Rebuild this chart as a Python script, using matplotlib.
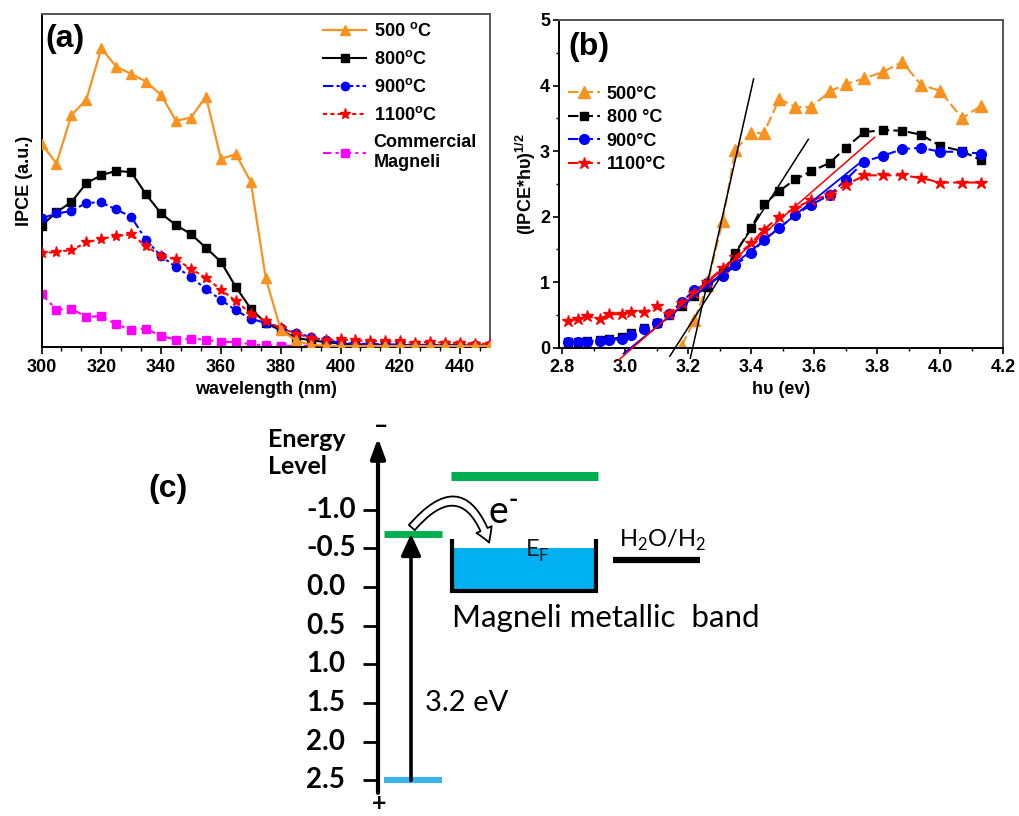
import matplotlib
matplotlib.use('Agg')
import matplotlib.pyplot as plt
from matplotlib.ticker import MultipleLocator, FormatStrFormatter
from matplotlib.patches import FancyArrowPatch

plt.rcParams['font.family'] = 'Liberation Sans'
plt.rcParams['font.weight'] = 'bold'
plt.rcParams['axes.labelweight'] = 'bold'
plt.rcParams['mathtext.fontset'] = 'custom'
plt.rcParams['mathtext.rm'] = 'Liberation Sans'
plt.rcParams['mathtext.bf'] = 'Liberation Sans:bold'

# (a) IPCE spectra, arbitrary units
wavelength = [300, 305, 310, 315, 320, 325, 330, 335, 340, 345, 350, 355, 360, 365, 370, 375,
              380, 385, 390, 395, 400, 405, 410, 415, 420, 425, 430, 435, 440, 445, 450]
ipce_500 = [61.1, 55.1, 69.6, 74.3, 89.7, 84.2, 82.0, 79.7, 75.7, 67.9, 68.9, 75.2, 56.5, 57.9, 49.6, 20.7,
            5.2, 2.0, 0.6, 0.4, 0.3, 0.3, 0.3, 0.3, 0.3, 0.3, 0.3, 0.3, 0.3, 0.3, 0.3]
ipce_800 = [36.4, 40.5, 43.5, 49.2, 51.6, 52.9, 52.5, 45.8, 40.1, 36.6, 33.9, 29.8, 25.6, 18.0, 11.5, 7.2,
            5.0, 2.8, 2.0, 1.5, 1.0, 0.8, 0.7, 0.6, 0.6, 0.5, 0.5, 0.5, 0.5, 0.4, 0.4]
ipce_900 = [38.6, 40.1, 40.8, 43.3, 43.4, 41.3, 39.1, 32.1, 27.3, 24.0, 21.0, 17.4, 14.2, 11.0, 8.5, 7.2,
            5.7, 4.3, 3.0, 2.0, 1.3, 1.0, 0.9, 0.8, 0.7, 0.7, 0.6, 0.6, 0.6, 0.5, 0.5]
ipce_1100 = [28.1, 28.6, 29.1, 31.4, 32.5, 33.3, 33.8, 30.3, 27.3, 26.4, 23.4, 20.8, 17.2, 13.8, 10.0, 7.8,
             5.7, 4.0, 2.8, 2.0, 2.3, 2.0, 1.8, 1.7, 1.7, 1.3, 1.5, 1.3, 1.2, 1.0, 0.9]
ipce_comm = [16.0, 11.2, 11.5, 9.0, 9.3, 6.8, 5.2, 5.5, 3.3, 2.2, 2.5, 2.2, 1.5, 1.5, 0.8, 0.5,
             0.4, 0.3, 0.3, 0.3, 0.3, 0.3, 0.3, 0.3, 0.3, 0.3, 0.3, 0.3, 0.3, 0.3, 0.3]

# (b) (IPCE*hv)^1/2 vs photon energy
hv = [2.82, 2.85, 2.88, 2.92, 2.95, 2.99, 3.02, 3.06, 3.10, 3.14, 3.18, 3.22, 3.26, 3.31, 3.35,
      3.40, 3.44, 3.49, 3.54, 3.59, 3.65, 3.70, 3.76, 3.82, 3.88, 3.94, 4.00, 4.07, 4.13]
hv_500 = hv[10:]
tauc_500 = [0.03, 0.42, 0.95, 1.94, 3.02, 3.28, 3.27, 3.80, 3.67, 3.67, 3.91, 4.02, 4.11, 4.21,
            4.36, 4.01, 3.92, 3.50, 3.69]
tauc_800 = [0.08, 0.09, 0.10, 0.11, 0.13, 0.16, 0.22, 0.30, 0.38, 0.50, 0.64, 0.79, 0.93, 1.14, 1.45,
            1.82, 2.19, 2.39, 2.57, 2.69, 2.82, 3.05, 3.29, 3.32, 3.31, 3.25, 3.08, 3.00, 2.86]
tauc_900 = [0.08, 0.08, 0.09, 0.10, 0.11, 0.14, 0.20, 0.28, 0.37, 0.52, 0.70, 0.88, 0.98, 1.09, 1.26,
            1.44, 1.64, 1.83, 2.02, 2.18, 2.33, 2.56, 2.84, 2.93, 3.03, 3.05, 2.99, 2.99, 2.96]
tauc_1100 = [0.41, 0.44, 0.48, 0.44, 0.51, 0.51, 0.54, 0.54, 0.63, 0.52, 0.68, 0.84, 1.01, 1.21, 1.39,
             1.59, 1.80, 2.00, 2.13, 2.25, 2.33, 2.48, 2.63, 2.63, 2.63, 2.59, 2.52, 2.52, 2.52]
# linear fits (end points)
fit_500 = ([3.207, 3.408], [-0.16, 4.10])
fit_800 = ([3.142, 3.582], [-0.13, 3.18])
fit_900 = ([2.995, 3.753], [-0.09, 2.85])
fit_1100 = ([2.979, 3.792], [-0.19, 3.21])

# (c) energy levels (eV)
e_ticks = [-1.0, -0.5, 0.0, 0.5, 1.0, 1.5, 2.0, 2.5]
tio2_cb = -0.685
tio2_vb = 2.5
magneli_upper = -1.44
fermi = -0.5
well_top = -0.62
well_bottom = 0.05
h2_level = -0.35

orange = '#F7931E'
W, H = 1019, 816
fig = plt.figure(figsize=(W / 100, H / 100), dpi=100)


def box(l, t, r, b):
    return fig.add_axes([l / W, 1 - b / H, (r - l) / W, (b - t) / H])


def frame(ax):
    for s in ['left', 'bottom']:
        ax.spines[s].set_linewidth(1.4)
    for s in ['top', 'right']:
        ax.spines[s].set_linewidth(1.4)
        ax.spines[s].set_color('#555555')


# ---- (a)
ax = box(41.5, 14, 490, 347)
ax.plot(wavelength, ipce_500, color=orange, marker='^', ms=7, lw=1.6, mec=orange, label='500 $^\\mathbf{o}$C', zorder=3)
ax.plot(wavelength, ipce_800, color='black', marker='s', ms=5.5, lw=1.5, label='800$^\\mathbf{o}$C', zorder=2.5)
ax.plot(wavelength, ipce_900, color='blue', marker='o', ms=6, lw=1.5, ls=(0, (5, 1.5, 1.5, 1.5)), label='900$^\\mathbf{o}$C', zorder=2.6)
ax.plot(wavelength, ipce_1100, color='red', marker='*', ms=8, lw=1.5, ls=(0, (2, 1.5)), label='1100$^\\mathbf{o}$C', zorder=2.7)
ax.plot(wavelength, ipce_comm, color='magenta', marker='s', ms=5.5, lw=1.5, ls=(0, (4, 2, 1.5, 2)), label='Commercial\nMagneli')
ax.set_xlim(300, 450)
ax.set_ylim(0, 100)
ax.set_yticks([])
ax.xaxis.set_major_locator(MultipleLocator(20))
ax.xaxis.set_minor_locator(MultipleLocator(20 / 3))
ax.tick_params(axis='x', which='major', direction='out', length=5, width=1.2, labelsize=13)
ax.tick_params(axis='x', which='minor', direction='out', length=3, width=1)
ax.set_xlabel('wavelength (nm)', fontsize=13, labelpad=4)
ax.set_ylabel('IPCE (a.u.)', fontsize=13, labelpad=6)
frame(ax)
ax.legend(loc='upper left', bbox_to_anchor=(0.628, 0.975), frameon=False, fontsize=13,
          handlelength=2.4, handletextpad=0.4, labelspacing=0.55, borderpad=0, borderaxespad=0)
fig.text(45 / W, 1 - 39 / H, '(a)', fontsize=23, fontweight='bold', va='center')

# ---- (b)
bx = box(559, 20, 1003, 347.7)
dash = (0, (5, 2))
bx.plot(hv_500, tauc_500, color=orange, marker='^', ms=8, lw=1.5, ls=dash, label='500°C', zorder=2)
bx.plot(hv, tauc_800, color='black', marker='s', ms=6, lw=1.5, ls=dash, label='800 °C', zorder=2.1)
bx.plot(hv, tauc_900, color='blue', marker='o', ms=7, lw=1.5, ls=dash, label='900°C', zorder=2.2)
bx.plot(hv, tauc_1100, color='red', marker='*', ms=9, lw=1.5, ls=dash, label='1100°C', zorder=2.3)
bx.plot(*fit_500, color='black', lw=1.1, clip_on=False, zorder=3)
bx.plot(*fit_800, color='black', lw=1.1, clip_on=False, zorder=3)
bx.plot(*fit_900, color='blue', lw=1.3, clip_on=False, zorder=3)
bx.plot(*fit_1100, color='red', lw=1.1, clip_on=False, zorder=3)
bx.set_xlim(2.79, 4.2)
bx.set_ylim(0, 5)
bx.xaxis.set_major_locator(MultipleLocator(0.2))
bx.xaxis.set_minor_locator(MultipleLocator(0.1))
bx.xaxis.set_major_formatter(FormatStrFormatter('%.1f'))
bx.yaxis.set_major_locator(MultipleLocator(1))
bx.yaxis.set_minor_locator(MultipleLocator(0.5))
bx.tick_params(which='major', direction='out', length=4.5, width=1.2, labelsize=13)
bx.tick_params(which='minor', direction='out', length=2.5, width=1)
bx.tick_params(axis='y', pad=2)
bx.set_xlabel('h\u03c5 (ev)', fontsize=13, labelpad=4)
bx.set_ylabel('(IPCE*h\u03c5)$^{1/2}$', fontsize=13, labelpad=1)
frame(bx)
bx.legend(loc='upper left', bbox_to_anchor=(0.02, 0.80), frameon=False, fontsize=13,
          handlelength=1.8, handletextpad=0.35, labelspacing=0.36, borderpad=0, borderaxespad=0)
fig.text(568 / W, 1 - 47 / H, '(b)', fontsize=23, fontweight='bold', va='center')

# ---- (c) energy diagram, x in pixels, y in eV
cx = box(378, 400, 1019, 816)
cx.set_xlim(378, 1019)
cx.set_ylim(2.959, -2.416)
cx.patch.set_visible(False)
for s in cx.spines.values():
    s.set_visible(False)
cx.set_xticks([])
cx.set_yticks(e_ticks)
cx.tick_params(axis='y', direction='out', length=10.5, width=2, labelleft=False)
for v in e_ticks:
    cx.text(306, v, '%.1f' % v, ha='left', va='center', fontsize=20, fontweight='bold', family='Lato')

cx.annotate('', xy=(378, -1.925), xytext=(378, 2.66), annotation_clip=False,
            arrowprops=dict(arrowstyle='-|>,head_length=0.6,head_width=0.22', mutation_scale=20,
                            lw=3, color='black', shrinkA=0, shrinkB=0))
cx.text(268, -2.06, 'Energy\nLevel', ha='left', va='top', fontsize=18, fontweight='bold',
        family='Lato', linespacing=1.25)
cx.text(381, -2.09, '\u2013', ha='center', va='center', fontsize=18, fontweight='bold', family='Lato')
cx.text(379, 2.946, '+', ha='center', va='bottom', fontsize=18, fontweight='bold', family='Lato')

green = '#00B050'
cx.plot([384, 442], [tio2_cb, tio2_cb], color=green, lw=5, solid_capstyle='butt', clip_on=False)
cx.plot([384, 442], [tio2_vb, tio2_vb], color='#3DB4E8', lw=4.5, solid_capstyle='butt', clip_on=False)
cx.plot([451, 598], [magneli_upper, magneli_upper], color=green, lw=6.5, solid_capstyle='butt')

cx.annotate('', xy=(411, tio2_cb), xytext=(411, tio2_vb),
            arrowprops=dict(arrowstyle='-|>,head_length=0.65,head_width=0.3', mutation_scale=20,
                            lw=2.6, color='black', shrinkA=0, shrinkB=0))
cx.text(425, 1.5, '3.2 eV', ha='left', va='center', fontsize=21, fontweight='normal', family='Lato')

# Magneli metallic well
cx.fill_between([452, 596], fermi, well_bottom, color='#00B0F0', lw=0)
cx.plot([452, 452, 596, 596], [well_top, well_bottom, well_bottom, well_top], color='black', lw=3,
        solid_joinstyle='miter', solid_capstyle='butt')
cx.text(526, -0.4, 'E', ha='left', va='baseline', fontsize=17, fontweight='normal',
        family='Lato', color='#1a1a1a')
cx.text(538, -0.33, 'F', ha='left', va='baseline', fontsize=12, fontweight='normal',
        family='Lato', color='#1a1a1a')
cx.text(452, 0.4, 'Magneli metallic  band', ha='left', va='center', fontsize=22.5, fontweight='normal',
        family='Lato')

jump = FancyArrowPatch((410, -0.74), (490, -0.54), connectionstyle='arc3,rad=-0.9',
                       arrowstyle='simple,head_length=0.5,head_width=0.6,tail_width=0.28',
                       mutation_scale=20, fc='white', ec='black', lw=1.3, zorder=4)
cx.add_patch(jump)
cx.text(488, -0.97, 'e', ha='left', va='center', fontsize=27, fontweight='normal', family='Lato')
cx.text(509, -1.13, '-', ha='left', va='center', fontsize=18, fontweight='bold', family='Lato')

cx.text(619, -0.6, 'H$_\\mathregular{2}$O/H$_\\mathregular{2}$', ha='left', va='center', fontsize=17,
        fontweight='normal', family='Lato')
cx.plot([613, 700], [h2_level, h2_level], color='black', lw=4.5, solid_capstyle='butt')

fig.text(148 / W, 1 - 489 / H, '(c)', fontsize=23, fontweight='bold', va='center')

fig.savefig('out.png', dpi=100)
